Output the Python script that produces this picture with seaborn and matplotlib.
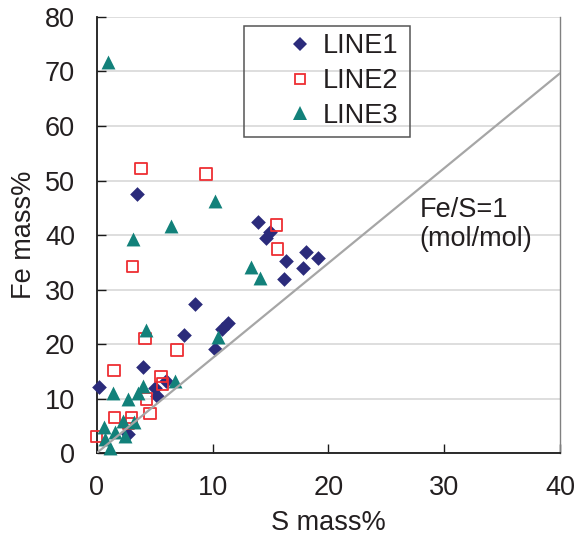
import matplotlib
matplotlib.use("Agg")
import matplotlib.pyplot as plt
from matplotlib.patches import Rectangle
from matplotlib.lines import Line2D
import numpy as np
import seaborn as sns

# ---------------- data ----------------
line1_s = [0.2, 3.45, 13.95, 15.0, 14.6, 18.1, 19.1, 16.35, 17.85, 16.2,
           8.5, 7.55, 11.3, 10.8, 10.2, 4.0, 5.0, 5.2, 6.0, 2.7]
line1_fe = [12.2, 47.6, 42.4, 40.6, 39.4, 36.8, 35.8, 35.3, 33.9, 31.9,
            27.3, 21.6, 23.9, 22.8, 19.1, 15.8, 12.0, 10.5, 13.2, 3.5]

line2_s = [3.83, 9.45, 3.1, 15.5, 15.6, 4.17, 6.93, 1.5, 5.55, 5.67,
           4.3, 4.6, 1.52, 3.0, 2.73, 0.0]
line2_fe = [52.2, 51.2, 34.2, 41.8, 37.4, 21.0, 18.9, 15.1, 14.0, 12.7,
            9.9, 7.3, 6.5, 6.5, 5.4, 3.0]

line3_s = [1.0, 10.25, 6.42, 3.16, 13.3, 14.1, 4.23, 10.45, 6.8, 4.0,
           1.43, 3.6, 2.73, 3.25, 2.3, 0.66, 1.58, 2.44, 0.72, 1.15]
line3_fe = [71.8, 46.3, 41.6, 39.3, 34.1, 32.2, 22.6, 21.2, 13.2, 12.3,
            11.0, 11.0, 9.85, 5.75, 5.9, 4.8, 3.9, 3.2, 2.5, 0.9]

series_names = ["LINE1", "LINE2", "LINE3"]
ref_s = [0, 40]
fe_atomic = 55.845
s_atomic = 32.06
ref_fe = [v * fe_atomic / s_atomic for v in ref_s]
ref_label = "Fe/S=1\n(mol/mol)"

x_ticks = [0, 10, 20, 30, 40]
y_ticks = [0, 10, 20, 30, 40, 50, 60, 70, 80]

# ---------------- style ----------------
navy = "#2B2B7B"
red = "#EE2E33"
teal = "#12817A"
txt = "#231F20"

sns.set_theme(style="white")
plt.rcParams["font.family"] = ["Liberation Sans", "DejaVu Sans"]

fig = plt.figure(figsize=(5.74, 5.43), dpi=100)
ax = fig.add_axes([0.1685, 0.1657, 0.8071, 0.8030])

ax.set_xlim(0, 40)
ax.set_ylim(0, 80)
ax.set_xticks(x_ticks)
ax.set_yticks(y_ticks)
ax.yaxis.grid(True, color="#D4D4D4", lw=1.1)
ax.xaxis.grid(False)
ax.set_axisbelow(True)

sns.scatterplot(x=line1_s, y=line1_fe, marker="D", s=56, color=navy,
                linewidth=0, ax=ax, clip_on=False, zorder=3, legend=False)
sns.scatterplot(x=line2_s, y=line2_fe, marker="s", s=68, facecolor="none",
                edgecolor=red, linewidth=1.3, ax=ax, clip_on=False, zorder=4,
                legend=False)
sns.scatterplot(x=line3_s, y=line3_fe, marker="^", s=100, color=teal,
                linewidth=0, ax=ax, clip_on=False, zorder=5, legend=False)
sns.lineplot(x=ref_s, y=ref_fe, color="#A6A6A6", lw=1.6, ax=ax, sort=False,
             estimator=None, zorder=6, legend=False)

ax.text(27.9, 41.9, ref_label, ha="left", va="center", fontsize=19.5,
        color=txt, linespacing=1.15)

for side in ["left", "bottom"]:
    ax.spines[side].set_color("#1A1A1A")
    ax.spines[side].set_linewidth(1.3)
ax.spines["top"].set_visible(False)
ax.spines["right"].set_color("#808080")
ax.spines["right"].set_linewidth(1.0)

ax.tick_params(axis="both", which="both", direction="in", length=6.5,
               width=1.0, pad=15.5, labelsize=19.5, labelcolor=txt,
               bottom=True, left=True, top=False, right=False, color="#1A1A1A")

ax.set_xlabel("S mass%", fontsize=19.5, color=txt, labelpad=7)
ax.set_ylabel("Fe mass%", fontsize=19.5, color=txt, labelpad=6)

# legend
handles = [
    Line2D([], [], marker="D", ls="none", color=navy, markersize=7.0, markeredgewidth=0),
    Line2D([], [], marker="s", ls="none", markerfacecolor="none",
           markeredgecolor=red, markersize=7.8, markeredgewidth=1.3),
    Line2D([], [], marker="^", ls="none", color=teal, markersize=9.8, markeredgewidth=0),
]
leg = ax.legend(handles, series_names, loc="upper left",
                bbox_to_anchor=(0.386, 0.988), frameon=False, fontsize=19.5,
                handlelength=1.0, handletextpad=0.34, labelspacing=0.33,
                borderaxespad=0, borderpad=0.4)
for t in leg.get_texts():
    t.set_color(txt)
ax.add_patch(Rectangle((0.318, 0.725), 0.358, 0.254, transform=ax.transAxes,
                       fill=False, edgecolor="#555555", lw=1.1, zorder=7,
                       clip_on=False))

fig.savefig("out.png", dpi=100)
